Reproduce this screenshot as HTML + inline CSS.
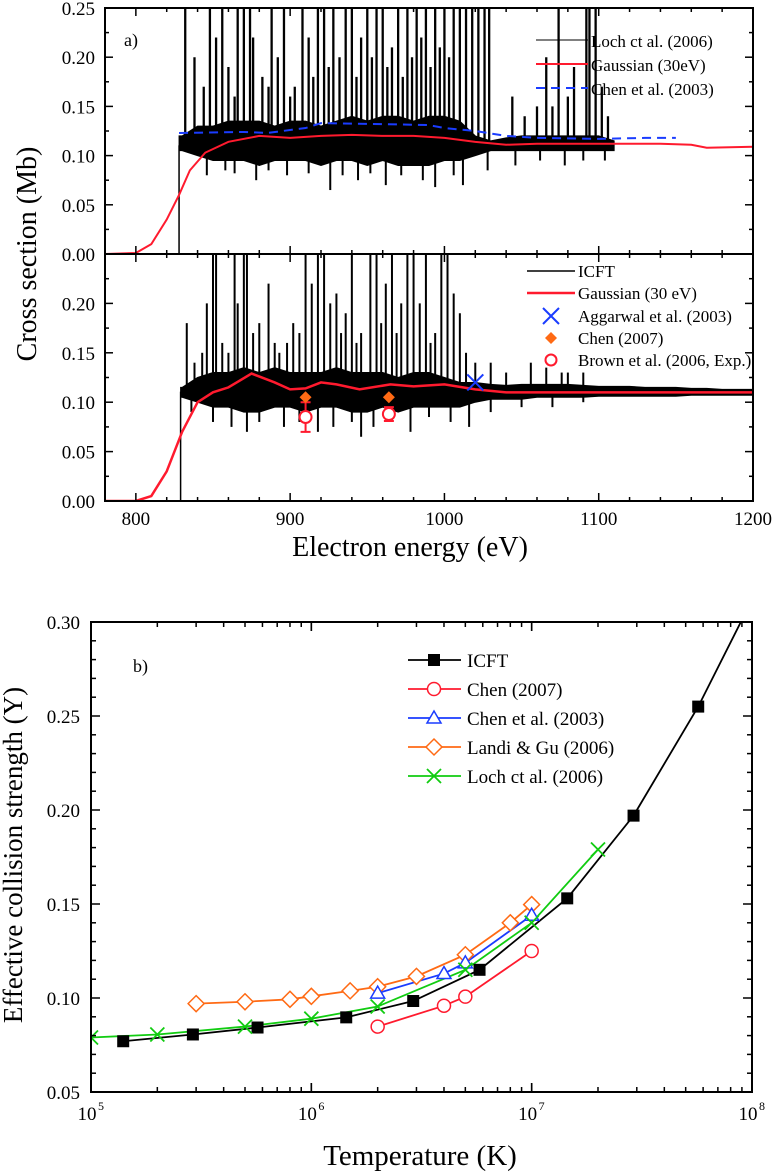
<!DOCTYPE html>
<html><head><meta charset="utf-8"><style>
html,body{margin:0;padding:0;background:#fff;}
svg{display:block;font-family:"Liberation Serif",serif;}
</style></head><body>
<svg id="fig" width="774" height="1176" viewBox="0 0 774 1176" xmlns="http://www.w3.org/2000/svg">
<defs id="defs"></defs>
<g id="pa"></g>
<g id="pb"></g>
</svg>
<script>
// ---------- Panel a data ----------
const gaussTopE=[780,800,810,820,828,835,845,860,880,900,920,940,960,980,1000,1020,1040,1060,1080,1100,1120,1140,1160,1170,1200];
const gaussTopV=[0,0.001,0.01,0.035,0.06,0.085,0.103,0.114,0.12,0.118,0.12,0.121,0.12,0.12,0.118,0.114,0.111,0.112,0.112,0.112,0.112,0.112,0.111,0.108,0.109];
const chenTopE=[828,870,885,910,920,960,990,1000,1020,1040,1060,1100,1130,1150];
const chenTopV=[0.123,0.124,0.123,0.128,0.133,0.132,0.131,0.128,0.125,0.12,0.118,0.117,0.118,0.118];
const binE0=830, binStep=10;
const lochLo=[0.105,0.10,0.095,0.095,0.095,0.09,0.095,0.095,0.095,0.09,0.095,0.095,0.09,0.095,0.09,0.09,0.09,0.095,0.095,0.10,0.105,0.105,0.105,0.105,0.105,0.105,0.105,0.105,0.105];
const lochHi=[0.12,0.13,0.13,0.135,0.135,0.135,0.13,0.135,0.135,0.13,0.135,0.14,0.135,0.14,0.14,0.135,0.14,0.14,0.135,0.12,0.115,0.118,0.12,0.12,0.12,0.12,0.12,0.12,0.115];
const lochDipE=[846,858,864,878,886,898,912,926,934,944,952,962,972,986,994,1006,1012,1028,1046,1062,1078,1090,1104];
const lochDipV=[.08,.085,.082,.075,.085,.08,.082,.065,.08,.075,.082,.07,.08,.075,.068,.08,.07,.085,.09,.095,.09,.095,.095];
const lochSpikeE=[832,838,844,848,852,856,860,864,866,870,874,876,882,886,888,892,896,900,903,908,912,915,918,922,925,928,932,936,940,943,946,950,953,956,960,963,966,970,973,976,979,982,985,988,991,994,997,1000,1003,1006,1010,1014,1018,1022,1026,1029,1044,1052,1060,1066,1070,1074,1080,1084,1092,1094,1098,1102,1106];
const lochSpikeV=[.25,.2,.17,.25,.22,.25,.19,.16,.25,.25,.25,.22,.18,.17,.25,.2,.25,.16,.17,.25,.22,.18,.25,.25,.19,.25,.2,.25,.25,.18,.22,.25,.2,.25,.25,.19,.21,.25,.18,.25,.2,.25,.22,.25,.19,.25,.21,.25,.2,.25,.25,.25,.25,.25,.25,.25,.16,.14,.15,.2,.15,.25,.16,.19,.25,.25,.25,.17,.14];
const gaussBotE=[780,800,810,820,830,840,850,860,875,890,900,910,920,930,945,965,980,1000,1020,1040,1200];
const gaussBotV=[0,0,0.005,0.03,0.07,0.1,0.11,0.115,0.129,0.12,0.113,0.114,0.12,0.118,0.113,0.118,0.116,0.118,0.113,0.11,0.11];
const icftLo=[.105,.10,.095,.095,.09,.09,.095,.095,.09,.095,.095,.09,.09,.095,.09,.095,.095,.095,.095,.10,.103,.103,.103,.105,.105,.105,.105,.106,.106,.106,.106,.106,.106,.107,.107,.107,.107,.107];
const icftHi=[.115,.125,.13,.13,.135,.13,.135,.13,.13,.13,.135,.13,.13,.13,.125,.13,.13,.125,.12,.12,.118,.117,.118,.118,.118,.118,.117,.116,.116,.116,.115,.115,.115,.114,.114,.113,.113,.113];
const icftDipE=[836,850,862,872,880,896,906,918,928,940,946,954,966,978,990,1004,1016,1030,1050,1070,1090];
const icftDipV=[.09,.08,.075,.07,.08,.075,.08,.07,.075,.08,.065,.075,.08,.07,.085,.08,.075,.09,.095,.095,.1];
const icftSpikeE=[833,838,843,846,850,852,856,860,864,866,870,872,876,880,886,890,893,898,902,906,910,914,918,922,926,930,933,936,940,943,946,952,956,959,962,966,969,972,976,980,984,988,991,994,998,1002,1006,1010,1014,1020,1030,1040,1056,1066,1076,1080,1090];
const icftSpikeV=[.18,.14,.15,.2,.25,.25,.16,.15,.25,.2,.25,.25,.17,.18,.22,.16,.15,.16,.18,.17,.25,.22,.25,.25,.2,.21,.17,.19,.25,.16,.17,.25,.25,.18,.22,.25,.17,.2,.25,.25,.2,.25,.16,.17,.25,.25,.21,.19,.15,.14,.14,.13,.14,.135,.13,.13,.13];
const aggE=[1020], aggV=[0.12];
const chen07E=[910,964], chen07V=[0.105,0.105];
const brownE=[910,964], brownV=[0.085,0.088], brownErr=[0.015,0.007];
const xTicksA=[800,900,1000,1100,1200];
const yTicksTop=[0,0.05,0.10,0.15,0.20,0.25];
const yTicksBot=[0,0.05,0.10,0.15,0.20];

// ---------- Panel b data ----------
const icftT=[1.4e5,2.9e5,5.7e5,1.44e6,2.9e6,5.8e6,1.45e7,2.9e7,5.7e7];
const icftY=[0.077,0.0806,0.0843,0.0897,0.0984,0.115,0.153,0.197,0.255];
const icftLineEndT=[8.9e7], icftLineEndY=[0.30];
const chen07T=[2e6,4e6,5e6,1e7], chen07Y=[0.0848,0.0959,0.1007,0.125];
const chen03T=[2e6,4e6,5e6,1e7], chen03Y=[0.1026,0.113,0.1187,0.144];
const landiT=[3e5,5e5,8e5,1e6,1.5e6,2e6,3e6,5e6,8e6,1e7];
const landiY=[0.097,0.098,0.0993,0.1009,0.1038,0.106,0.1115,0.123,0.140,0.1497];
const lochT=[1e5,2e5,5e5,1e6,2e6,5e6,1e7,2e7];
const lochY=[0.079,0.0806,0.0848,0.089,0.0955,0.115,0.140,0.179];
const yTicksB=[0.05,0.10,0.15,0.20,0.25,0.30];
const xDecB=[5,6,7,8];

const NS="http://www.w3.org/2000/svg";
function mk(parent,tag,attrs,text){const e=document.createElementNS(NS,tag);for(const k in attrs)e.setAttribute(k,attrs[k]);if(text!==undefined)e.textContent=text;parent.appendChild(e);return e;}
const pa=document.getElementById('pa'), pb=document.getElementById('pb'), defs=document.getElementById('defs');

const AX0=105, AX1=753, TOP0=8, MID=254, BOT=501;
const xa=e=>AX0+(e-780)*(AX1-AX0)/420;
const yt=v=>MID-v*(MID-TOP0)/0.25;
const yb=v=>BOT-v*(BOT-MID)/0.25;

function band(g,lo,hi,yf,name,startE){
  let d='M'+xa(startE)+','+yf(lo[0]);
  for(let i=0;i<lo.length;i++){d+=' L'+xa(binE0+i*binStep)+','+yf(lo[i]);}
  for(let i=hi.length-1;i>=0;i--){d+=' L'+xa(binE0+i*binStep)+','+yf(hi[i]);}
  d+=' L'+xa(startE)+','+yf(hi[0])+'Z';
  const p=mk(g,'path',{d:d,fill:'#000',stroke:'#000','stroke-width':1});
  
  
}
function spikes(g,E,V,yf,base,w){
  for(let i=0;i<E.length;i++){
    const ln=mk(g,'line',{x1:xa(E[i]),x2:xa(E[i]),y1:yf(base),y2:yf(V[i]),stroke:'#000','stroke-width':w});
    
    
  }
}
function poly(g,X,Y,fx,fy,attrs,name){
  const pts=X.map((x,i)=>fx(x)+','+fy(Y[i])).join(' ');
  const p=mk(g,'polyline',Object.assign({points:pts,fill:'none'},attrs));
  
  
  return p;
}
const c1=mk(defs,'clipPath',{id:'clipTop'});mk(c1,'rect',{x:AX0,y:TOP0,width:AX1-AX0,height:MID-TOP0});
const c2=mk(defs,'clipPath',{id:'clipBot'});mk(c2,'rect',{x:AX0,y:MID,width:AX1-AX0,height:BOT-MID});

const gt=mk(pa,'g',{'clip-path':'url(#clipTop)'});


band(gt,lochLo,lochHi,yt,'loch-spectrum',828);
spikes(gt,lochSpikeE,lochSpikeV,yt,0.11,2.3);
spikes(gt,lochDipE,lochDipV,yt,0.11,2);
const stepT=mk(gt,'polyline',{points:`${xa(828)},${yt(0)} ${xa(828)},${yt(0.11)} ${xa(831)},${yt(0.115)}`,fill:'none',stroke:'#000','stroke-width':1.5});


poly(gt,chenTopE,chenTopV,xa,yt,{stroke:'#1a3cff','stroke-width':2,'stroke-dasharray':'9,6'},'chen-2003-line');
poly(gt,gaussTopE,gaussTopV,xa,yt,{stroke:'#ff1a2e','stroke-width':2},'gaussian-top-line');

const gbm=mk(pa,'g',{'clip-path':'url(#clipBot)'});


band(gbm,icftLo,icftHi,yb,'icft-spectrum',829);
spikes(gbm,icftSpikeE,icftSpikeV,yb,0.11,2);
spikes(gbm,icftDipE,icftDipV,yb,0.11,2);
const stepB=mk(gbm,'polyline',{points:`${xa(829)},${yb(0)} ${xa(829)},${yb(0.11)} ${xa(832)},${yb(0.11)}`,fill:'none',stroke:'#000','stroke-width':1.5});


poly(gbm,gaussBotE,gaussBotV,xa,yb,{stroke:'#ff1a2e','stroke-width':2.5},'gaussian-bottom-line');
for(let i=0;i<brownE.length;i++){
  const x=xa(brownE[i]);
  const eb=mk(gbm,'path',{d:`M${x},${yb(brownV[i]-brownErr[i])} V${yb(brownV[i]+brownErr[i])} M${x-5},${yb(brownV[i]-brownErr[i])} h10 M${x-5},${yb(brownV[i]+brownErr[i])} h10`,stroke:'#ff1a2e','stroke-width':2,fill:'none'});
  
  
  const c=mk(gbm,'circle',{cx:x,cy:yb(brownV[i]),r:6,fill:'#fff',stroke:'#ff1a2e','stroke-width':2});
  
  
}
for(let i=0;i<chen07E.length;i++){
  const x=xa(chen07E[i]),y=yb(chen07V[i]);
  const d=mk(gbm,'path',{d:`M${x},${y-6} L${x+6},${y} L${x},${y+6} L${x-6},${y}Z`,fill:'#ff6a14'});
  
  
}
for(let i=0;i<aggE.length;i++){
  const x=xa(aggE[i]),y=yb(aggV[i]);
  const d=mk(gbm,'path',{d:`M${x-8},${y-8} L${x+8},${y+8} M${x+8},${y-8} L${x-8},${y+8}`,stroke:'#1a3cff','stroke-width':2});
  
  
}

function frame(g,x0,y0,x1,y1,name){const r=mk(g,'rect',{x:x0,y:y0,width:x1-x0,height:y1-y0,fill:'none',stroke:'#000','stroke-width':2});}
frame(pa,AX0,TOP0,AX1,MID,'top-frame');
frame(pa,AX0,MID,AX1,BOT,'bottom-frame');
const tk=mk(pa,'g',{stroke:'#000','stroke-width':1.5});


for(let e=780;e<=1200;e+=20){
  const major=(e%100===0), L=major?8:4, x=xa(e);
  [[TOP0,1],[MID,-1],[MID,1],[BOT,-1]].forEach(([y,s])=>mk(tk,'line',{x1:x,x2:x,y1:y,y2:y+s*L}));
}
for(let v=0;v<=0.2501;v+=0.025){
  const major=Math.round(v*1000)%50===0, L=major?8:4;
  [yt(v),yb(v)].forEach(y=>{mk(tk,'line',{x1:AX0,x2:AX0+L,y1:y,y2:y});mk(tk,'line',{x1:AX1,x2:AX1-L,y1:y,y2:y});});
}
const lab=mk(pa,'g',{'font-size':19,fill:'#000'});


yTicksTop.forEach(v=>{const t=mk(lab,'text',{x:95,y:yt(v)+7,'text-anchor':'end'},v.toFixed(2));});
yTicksBot.forEach(v=>{const t=mk(lab,'text',{x:95,y:yb(v)+7,'text-anchor':'end'},v.toFixed(2));});
xTicksA.forEach(e=>{const t=mk(lab,'text',{x:xa(e),y:BOT+24,'text-anchor':'middle'},String(e));});

pa.insertAdjacentHTML('beforeend',`
<text x="124" y="46" font-size="18">a)</text>
<text transform="translate(36,254) rotate(-90)" text-anchor="middle" font-size="28">Cross section (Mb)</text>
<text x="410" y="556" text-anchor="middle" font-size="28">Electron energy (eV)</text>
<g font-size="17">
 <line x1="536" y1="40" x2="588" y2="40" stroke="#000" stroke-width="1"/>
 <text x="591" y="47">Loch ct al. (2006)</text>
 <line x1="536" y1="64" x2="588" y2="64" stroke="#ff1a2e" stroke-width="2"/>
 <text x="591" y="71">Gaussian (30eV)</text>
 <line x1="536" y1="88" x2="588" y2="88" stroke="#1a3cff" stroke-width="2" stroke-dasharray="9,6"/>
 <text x="591" y="95">Chen et al. (2003)</text>
</g>
<g font-size="17">
 <line x1="527" y1="271" x2="575" y2="271" stroke="#000" stroke-width="1.5"/>
 <text x="578" y="277">ICFT</text>
 <line x1="527" y1="293" x2="575" y2="293" stroke="#ff1a2e" stroke-width="2.5"/>
 <text x="578" y="299">Gaussian (30 eV)</text>
 <path d="M543,308 L559,324 M559,308 L543,324" stroke="#1a3cff" stroke-width="2"/>
 <text x="578" y="322">Aggarwal et al. (2003)</text>
 <path d="M551,332 L557,338 L551,344 L545,338Z" fill="#ff6a14"/>
 <text x="578" y="344">Chen (2007)</text>
 <circle cx="551" cy="360" r="5.5" fill="#fff" stroke="#ff1a2e" stroke-width="2"/>
 <text x="578" y="366">Brown et al. (2006, Exp.)</text>
</g>`);

// ---------- Panel b ----------
const BX0=91,BX1=752,BY0=622,BY1=1092;
const xb=t=>BX0+(Math.log10(t)-5)*(BX1-BX0)/3;
const ybb=v=>BY1-(v-0.05)*(BY1-BY0)/0.25;
const cp=mk(defs,'clipPath',{id:'clipB'});mk(cp,'rect',{x:BX0,y:BY0,width:BX1-BX0,height:BY1-BY0});
const g=mk(pb,'g',{'clip-path':'url(#clipB)'});


function line(T,Y,color,name){const p=mk(g,'polyline',{points:T.map((t,i)=>xb(t)+','+ybb(Y[i])).join(' '),fill:'none',stroke:color,'stroke-width':1.8});}
function marker(parent,type,x,y,color){
  let e;
  if(type==='sq') e=mk(parent,'rect',{x:x-6,y:y-6,width:12,height:12,fill:'#000'});
  else if(type==='ci') e=mk(parent,'circle',{cx:x,cy:y,r:6.5,fill:'#fff',stroke:color,'stroke-width':1.5});
  else if(type==='tr') e=mk(parent,'path',{d:`M${x},${y-7} L${x+7},${y+5} L${x-7},${y+5}Z`,fill:'#fff',stroke:color,'stroke-width':1.5});
  else if(type==='di') e=mk(parent,'path',{d:`M${x},${y-8} L${x+8},${y} L${x},${y+8} L${x-8},${y}Z`,fill:'#fff',stroke:color,'stroke-width':1.5});
  else e=mk(parent,'path',{d:`M${x-7},${y-7} L${x+7},${y+7} M${x+7},${y-7} L${x-7},${y+7}`,stroke:color,'stroke-width':1.8});
  return e;
}
line(landiT,landiY,'#ff6a14','landi-line');
line(chen03T,chen03Y,'#1a3cff','chen-2003-line-b');
line(chen07T,chen07Y,'#ff1a2e','chen-2007-line-b');
line(icftT.concat(icftLineEndT),icftY.concat(icftLineEndY),'#000','icft-line-b');
line(lochT,lochY,'#11cc11','loch-line-b');
const series=[[landiT,landiY,'di','#ff6a14','landi-point'],[chen03T,chen03Y,'tr','#1a3cff','chen-2003-point'],[chen07T,chen07Y,'ci','#ff1a2e','chen-2007-point'],[icftT,icftY,'sq','#000','icft-point'],[lochT,lochY,'x','#11cc11','loch-point']];
series.forEach(s=>{for(let i=0;i<s[0].length;i++){const m=marker(g,s[2],xb(s[0][i]),ybb(s[1][i]),s[3]);}});

const fr=mk(pb,'rect',{x:BX0,y:BY0,width:BX1-BX0,height:BY1-BY0,fill:'none',stroke:'#000','stroke-width':2});


const tkb=mk(pb,'g',{stroke:'#000','stroke-width':1.5});


for(let d=5;d<8;d++){for(let m=1;m<=10;m++){const x=xb(m*Math.pow(10,d));const L=(m===1||m===10)?9:5;mk(tkb,'line',{x1:x,x2:x,y1:BY1,y2:BY1-L});mk(tkb,'line',{x1:x,x2:x,y1:BY0,y2:BY0+L});}}
for(let v=0.05;v<=0.3001;v+=0.01){const y=ybb(v);const L=(Math.round(v*100)%5===0)?9:5;mk(tkb,'line',{x1:BX0,x2:BX0+L,y1:y,y2:y});mk(tkb,'line',{x1:BX1,x2:BX1-L,y1:y,y2:y});}
const lb=mk(pb,'g',{'font-size':19});


yTicksB.forEach(v=>{const t=mk(lb,'text',{x:80,y:ybb(v)+7,'text-anchor':'end'},v.toFixed(2));});
xDecB.forEach(d=>{const t=mk(lb,'text',{x:xb(Math.pow(10,d))-4,y:BY1+28,'text-anchor':'middle'},'10');const s=mk(lb,'text',{x:xb(Math.pow(10,d))+7,y:BY1+18,'font-size':12},String(d));});

pb.insertAdjacentHTML('beforeend',`
<text x="133" y="672" font-size="18">b)</text>
<text transform="translate(22,855) rotate(-90)" text-anchor="middle" font-size="27">Effective collision strength (Y)</text>
<text x="420" y="1165" text-anchor="middle" font-size="29">Temperature (K)</text>`);
const lg=mk(pb,'g',{'font-size':19});


const legN=['ICFT','Chen (2007)','Chen et al. (2003)','Landi &amp; Gu (2006)','Loch ct al. (2006)'];
const legC=['#000','#ff1a2e','#1a3cff','#ff6a14','#11cc11'];
const legM=['sq','ci','tr','di','x'];
for(let i=0;i<5;i++){
  const y=660+i*29;
  const l=mk(lg,'line',{x1:408,x2:461,y1:y,y2:y,stroke:legC[i],'stroke-width':1.8});
  
  
  const m=marker(lg,legM[i],434,y,legC[i]);
  
  
  const t=mk(lg,'text',{x:467,y:y+7});t.innerHTML=legN[i];
  
  
}
</script>
</body></html>
